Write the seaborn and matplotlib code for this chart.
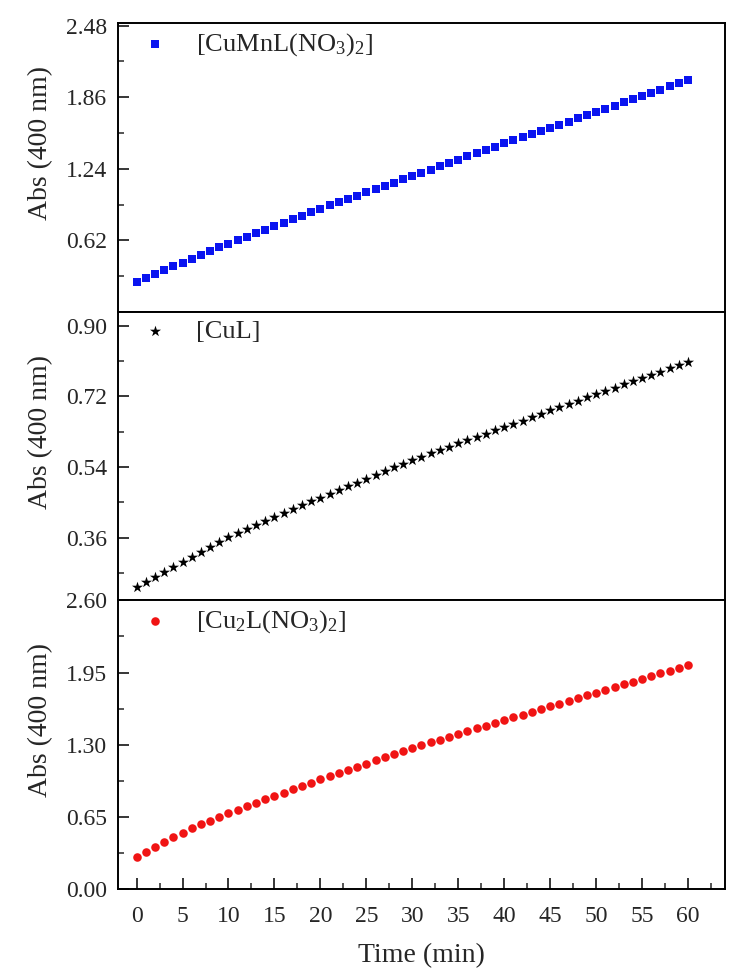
import numpy as np
import pandas as pd
import matplotlib
matplotlib.use("Agg")
import matplotlib.pyplot as plt
from matplotlib.ticker import MultipleLocator, FixedLocator
import seaborn as sns

time_min = list(range(0, 61))

abs_cumnl = [0.260, 0.294, 0.327, 0.360, 0.393, 0.426, 0.459, 0.492, 0.525, 0.558,
             0.590, 0.621, 0.651, 0.682, 0.712, 0.743, 0.773, 0.804, 0.834, 0.865,
             0.895, 0.923, 0.951, 0.979, 1.007, 1.035, 1.063, 1.091, 1.119, 1.147,
             1.175, 1.204, 1.232, 1.261, 1.289, 1.318, 1.346, 1.375, 1.403, 1.432,
             1.460, 1.487, 1.514, 1.541, 1.568, 1.595, 1.622, 1.649, 1.676, 1.703,
             1.730, 1.758, 1.786, 1.814, 1.842, 1.870, 1.898, 1.926, 1.954, 1.982,
             2.010]

abs_cul = [0.234, 0.247, 0.260, 0.272, 0.285, 0.298, 0.311, 0.324, 0.336, 0.349,
           0.362, 0.372, 0.382, 0.392, 0.402, 0.412, 0.422, 0.432, 0.442, 0.452,
           0.462, 0.472, 0.481, 0.491, 0.500, 0.510, 0.520, 0.529, 0.539, 0.548,
           0.558, 0.566, 0.575, 0.583, 0.591, 0.600, 0.608, 0.616, 0.624, 0.633,
           0.641, 0.650, 0.658, 0.667, 0.675, 0.684, 0.692, 0.701, 0.709, 0.718,
           0.726, 0.734, 0.742, 0.750, 0.758, 0.767, 0.775, 0.783, 0.791, 0.799,
           0.807]

abs_cu2l = [0.286, 0.334, 0.380, 0.425, 0.467, 0.506, 0.545, 0.581, 0.614, 0.650,
            0.683, 0.715, 0.746, 0.777, 0.808, 0.838, 0.868, 0.898, 0.928, 0.958,
            0.987, 1.016, 1.045, 1.074, 1.102, 1.130, 1.158, 1.186, 1.214, 1.242,
            1.270, 1.296, 1.321, 1.346, 1.371, 1.396, 1.421, 1.446, 1.471, 1.496,
            1.521, 1.546, 1.571, 1.596, 1.621, 1.646, 1.671, 1.696, 1.720, 1.744,
            1.768, 1.793, 1.818, 1.843, 1.868, 1.893, 1.917, 1.942, 1.967, 1.992,
            2.017]

labels = [r"[CuMnL(NO$_3$)$_2$]", "[CuL]", r"[Cu$_2$L(NO$_3$)$_2$]"]
colors = ["#0a14f0", "black", "#f01414"]
markers = ["s", "*", "o"]
sizes = [28, 70, 38]
y_ticks = [[0.62, 1.24, 1.86, 2.48], [0.36, 0.54, 0.72, 0.90], [0.00, 0.65, 1.30, 1.95, 2.60]]
y_minor = [[0.31, 0.93, 1.55, 2.17], [0.27, 0.45, 0.63, 0.81], [0.325, 0.975, 1.625, 2.275]]
y_lims = [(0.0, 2.50), (0.20, 0.935), (0.0, 2.60)]
x_ticks = list(range(0, 61, 5))

sns.set_style("ticks")
plt.rcParams["font.family"] = ["Liberation Serif", "DejaVu Serif"]
plt.rcParams["mathtext.fontset"] = "custom"
plt.rcParams["mathtext.rm"] = "Liberation Serif"
plt.rcParams["mathtext.it"] = "Liberation Serif:italic"
plt.rcParams["mathtext.default"] = "rm"

fig, axes = plt.subplots(3, 1, figsize=(7.48, 9.71), dpi=100, sharex=True)
fig.subplots_adjust(left=0.158, right=0.969, top=0.976, bottom=0.0845, hspace=0)

series = [abs_cumnl, abs_cul, abs_cu2l]
for i, ax in enumerate(axes):
    df = pd.DataFrame({"Time": time_min, "Abs": series[i]})
    sns.scatterplot(data=df, x="Time", y="Abs", ax=ax, marker=markers[i], color=colors[i],
                    s=sizes[i], linewidth=0, edgecolor=colors[i], label=labels[i])
    ax.set_ylim(*y_lims[i])
    ax.yaxis.set_major_locator(FixedLocator(y_ticks[i]))
    ax.yaxis.set_minor_locator(FixedLocator(y_minor[i]))
    ax.set_yticklabels([f"{v:.2f}" for v in y_ticks[i]])
    ax.set_ylabel("Abs (400 nm)", fontsize=20)
    ax.yaxis.set_label_coords(-0.107, 0.585)
    ax.set_xlabel("")
    for sp in ax.spines.values():
        sp.set_linewidth(1.4)
        sp.set_color("black")
        sp.set_visible(True)
    ax.tick_params(axis="y", which="major", direction="in", length=8, width=1.3, labelsize=17, pad=8)
    ax.tick_params(axis="y", which="minor", direction="in", length=4, width=1.1)
    ax.tick_params(axis="x", which="both", bottom=(i == 2), top=False, labelbottom=(i == 2))
    ax.legend(loc="upper left", frameon=False, fontsize=19, borderaxespad=0.1,
              borderpad=0.2, handlelength=2.2, handletextpad=0.45)

axb = axes[2]
axb.set_xlim(-2, 64)
axb.xaxis.set_major_locator(FixedLocator(x_ticks))
axb.xaxis.set_minor_locator(MultipleLocator(2.5))
axb.set_xticklabels([str(v) for v in x_ticks])
axb.tick_params(axis="x", which="major", direction="in", length=8, width=1.3, labelsize=17, pad=12)
axb.tick_params(axis="x", which="minor", direction="in", length=4, width=1.1)
axb.set_xlabel("Time (min)", fontsize=20, labelpad=12)

fig.savefig("out.png", dpi=100)
